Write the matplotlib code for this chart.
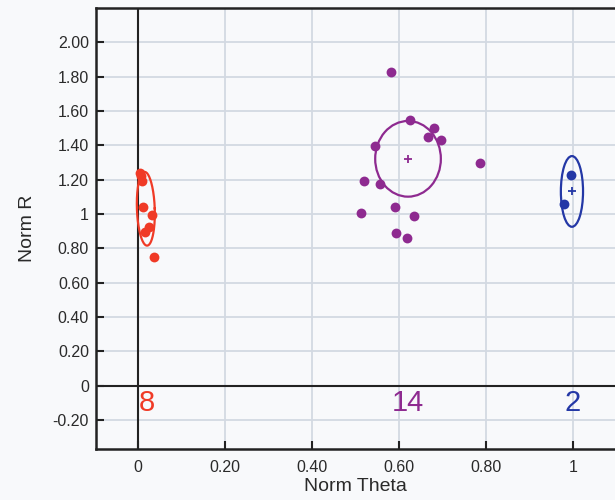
import numpy as np
import matplotlib.pyplot as plt
from matplotlib.patches import Ellipse

plt.rcParams['font.family'] = ['Liberation Sans', 'DejaVu Sans']

# Normalised theta / R for each cluster
red_theta = [0.005, 0.008, 0.010, 0.012, 0.033, 0.026, 0.016, 0.037]
red_r = [1.236, 1.220, 1.190, 1.040, 0.995, 0.925, 0.896, 0.750]

purple_theta = [0.582, 0.626, 0.680, 0.667, 0.696, 0.546, 0.786,
                0.520, 0.557, 0.591, 0.513, 0.635, 0.594, 0.618]
purple_r = [1.829, 1.545, 1.500, 1.448, 1.430, 1.395, 1.294,
            1.191, 1.172, 1.040, 1.007, 0.987, 0.886, 0.861]

blue_theta = [0.995, 0.980]
blue_r = [1.224, 1.059]

# cluster centre, ellipse width/height (data units), tilt (deg)
clusters = [
    ("#f03a26", 0.018, 1.03, 0.041, 0.43, 2.0, False),
    ("#8e2a90", 0.621, 1.321, 0.151, 0.441, 0.0, True),
    ("#2438a6", 0.998, 1.131, 0.051, 0.412, 0.0, True),
]
counts = ["8", "14", "2"]
count_x = [0.021, 0.62, 1.0]

yticks = [-0.2, 0, 0.2, 0.4, 0.6, 0.8, 1.0, 1.2, 1.4, 1.6, 1.8, 2.0]
ytick_labels = ["-0.20", "0", "0.20", "0.40", "0.60", "0.80", "1",
                "1.20", "1.40", "1.60", "1.80", "2.00"]
xticks = [0, 0.2, 0.4, 0.6, 0.8, 1.0]
xtick_labels = ["0", "0.20", "0.40", "0.60", "0.80", "1"]

bg = "#f8f9fb"
fig = plt.figure(figsize=(6.15, 5.0), dpi=100, facecolor=bg)
ax = fig.add_axes([96 / 615, 51 / 500, 1 - 96 / 615, 441 / 500])
ax.set_facecolor(bg)

ax.set_xlim(-0.0966, 1.097)
ax.set_ylim(-0.37, 2.20)

ax.grid(True, color="#d3d9e2", linewidth=1.3)
ax.set_axisbelow(True)
ax.axvline(0, color="#222222", linewidth=1.5)
ax.axhline(0, color="#222222", linewidth=1.5)

point_sets = [(red_theta, red_r), (purple_theta, purple_r), (blue_theta, blue_r)]
for (tx, ry), (col, cx, cy, w, h, ang, cross) in zip(point_sets, clusters):
    ax.scatter(tx, ry, s=50, color=col, zorder=4, linewidths=0)
    if ang == 0:
        ax.add_patch(Ellipse((cx, cy), w, h, fill=False, edgecolor=col,
                             linewidth=1.6, zorder=3))
    else:
        # tilted outline, rotation done in pixel-like space
        t = np.linspace(0, 2 * np.pi, 200)
        sx, sy = 435.0, 171.5
        a, b = w * sx / 2, h * sy / 2
        th = np.deg2rad(ang)
        px = a * np.cos(t) * np.cos(th) - b * np.sin(t) * np.sin(th)
        py = a * np.cos(t) * np.sin(th) + b * np.sin(t) * np.cos(th)
        ax.plot(cx + px / sx, cy + py / sy, color=col, linewidth=1.6, zorder=3)
    if cross:
        ax.plot(cx, cy, marker="+", color=col, markersize=5.5, mew=1.3, zorder=4)

for lbl, x, (col, *_rest) in zip(counts, count_x, clusters):
    ax.text(x, -0.10, lbl, color=col, fontsize=21, ha="center", va="center")

ax.set_xticks(xticks)
ax.set_xticklabels(xtick_labels)
ax.set_yticks(yticks)
ax.set_yticklabels(ytick_labels)
ax.tick_params(direction="in", length=6, width=1.5, colors="#222222",
               labelsize=11.5, labelcolor="#2a2a2a")
ax.tick_params(axis="y", pad=5)
ax.tick_params(axis="x", pad=8)

for side in ["left", "bottom", "top"]:
    ax.spines[side].set_linewidth(1.8)
    ax.spines[side].set_color("#222222")
ax.spines["right"].set_visible(False)

ax.set_xlabel("Norm Theta", fontsize=14, color="#2a2a2a", labelpad=2)
ax.set_ylabel("Norm R", fontsize=14, color="#2a2a2a", labelpad=12)

plt.savefig("out.png", dpi=100, facecolor=bg)
